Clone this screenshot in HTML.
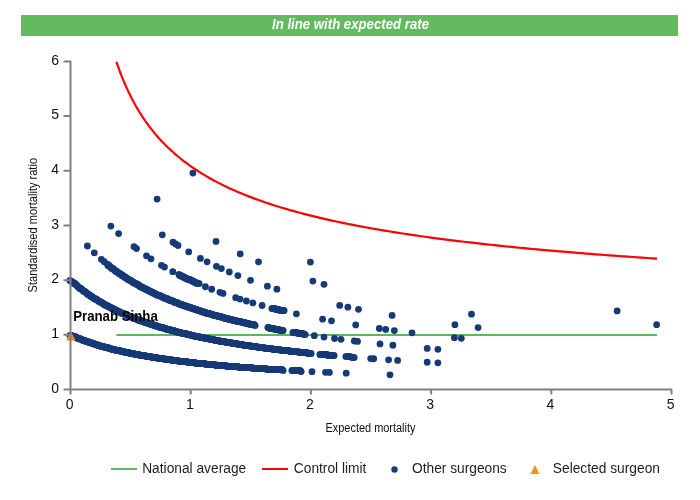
<!DOCTYPE html>
<html><head><meta charset="utf-8"><title>Funnel plot</title>
<style>
html,body{margin:0;padding:0;background:#fff;}
body{width:700px;height:500px;overflow:hidden;position:relative;font-family:"Liberation Sans",Arial,sans-serif;}
svg{position:absolute;left:0;top:0;}
</style></head><body>
<svg style="will-change:transform" width="700" height="500" viewBox="0 0 700 500">
<rect x="21" y="15" width="657" height="21" fill="#63ba5f"/>
<text x="272" y="28.7" textLength="157" lengthAdjust="spacingAndGlyphs" fill="#fff" font-family="Liberation Sans, Arial, sans-serif" font-size="14" font-weight="bold" font-style="italic">In line with expected rate</text>
<path d="M116.41,335.12 H657.00" stroke="#5cb85a" stroke-width="2" fill="none"/>
<path d="M116.41,61.75 L116.45,61.87 L116.54,62.15 L116.69,62.59 L116.88,63.15 L117.11,63.83 L117.39,64.63 L117.70,65.53 L118.05,66.52 L118.44,67.62 L118.87,68.79 L119.33,70.05 L119.82,71.39 L120.35,72.79 L120.92,74.26 L121.51,75.79 L122.14,77.37 L122.80,79.01 L123.49,80.69 L124.22,82.41 L124.98,84.17 L125.76,85.96 L126.58,87.78 L127.43,89.63 L128.30,91.50 L129.21,93.39 L130.15,95.29 L131.11,97.21 L132.11,99.14 L133.13,101.08 L134.18,103.02 L135.26,104.96 L136.37,106.91 L137.51,108.85 L138.68,110.80 L139.87,112.73 L141.09,114.66 L142.34,116.59 L143.61,118.50 L144.91,120.40 L146.24,122.30 L147.60,124.18 L148.98,126.04 L150.39,127.89 L151.83,129.73 L153.29,131.55 L154.78,133.36 L156.29,135.15 L157.83,136.92 L159.40,138.67 L160.99,140.41 L162.61,142.13 L164.25,143.83 L165.92,145.51 L167.61,147.17 L169.33,148.81 L171.08,150.43 L172.85,152.04 L174.64,153.62 L176.46,155.19 L178.31,156.73 L180.18,158.26 L182.07,159.77 L183.99,161.26 L185.93,162.73 L187.90,164.18 L189.89,165.61 L191.91,167.02 L193.95,168.42 L196.01,169.79 L198.10,171.15 L200.21,172.49 L202.35,173.82 L204.51,175.12 L206.70,176.41 L208.90,177.68 L211.14,178.94 L213.39,180.17 L215.67,181.39 L217.97,182.60 L220.30,183.79 L222.65,184.96 L225.02,186.12 L227.42,187.26 L229.83,188.39 L232.28,189.50 L234.74,190.60 L237.23,191.68 L239.74,192.75 L242.28,193.80 L244.83,194.84 L247.41,195.87 L250.02,196.88 L252.64,197.88 L255.29,198.87 L257.96,199.84 L260.65,200.80 L263.37,201.75 L266.11,202.69 L268.87,203.61 L271.65,204.53 L274.46,205.43 L277.29,206.32 L280.14,207.20 L283.01,208.06 L285.90,208.92 L288.82,209.77 L291.76,210.60 L294.72,211.43 L297.70,212.24 L300.71,213.05 L303.73,213.84 L306.78,214.63 L309.85,215.40 L312.94,216.17 L316.06,216.92 L319.19,217.67 L322.35,218.41 L325.53,219.14 L328.73,219.86 L331.95,220.57 L335.20,221.28 L338.46,221.97 L341.75,222.66 L345.06,223.34 L348.39,224.01 L351.74,224.68 L355.11,225.33 L358.51,225.98 L361.92,226.62 L365.36,227.26 L368.82,227.88 L372.29,228.50 L375.79,229.12 L379.32,229.72 L382.86,230.32 L386.42,230.91 L390.01,231.50 L393.61,232.08 L397.24,232.65 L400.88,233.22 L404.55,233.78 L408.24,234.34 L411.95,234.89 L415.68,235.43 L419.43,235.97 L423.20,236.50 L427.00,237.02 L430.81,237.54 L434.64,238.06 L438.50,238.57 L442.38,239.07 L446.27,239.57 L450.19,240.07 L454.12,240.56 L458.08,241.04 L462.06,241.52 L466.06,241.99 L470.08,242.46 L474.12,242.93 L478.18,243.39 L482.26,243.84 L486.36,244.30 L490.48,244.74 L494.62,245.18 L498.78,245.62 L502.96,246.06 L507.16,246.49 L511.39,246.91 L515.63,247.33 L519.89,247.75 L524.17,248.16 L528.47,248.57 L532.80,248.98 L537.14,249.38 L541.50,249.78 L545.88,250.17 L550.29,250.56 L554.71,250.95 L559.15,251.33 L563.61,251.71 L568.09,252.09 L572.60,252.46 L577.12,252.83 L581.66,253.20 L586.22,253.56 L590.80,253.92 L595.40,254.28 L600.02,254.63 L604.66,254.98 L609.32,255.33 L614.00,255.67 L618.70,256.02 L623.42,256.35 L628.16,256.69 L632.92,257.02 L637.69,257.35 L642.49,257.68 L647.31,258.00 L652.14,258.32 L657.00,258.64" stroke="#ff0000" stroke-width="2.2" fill="none"/>
<g fill="none" stroke="#163a77" stroke-width="7.5" stroke-linecap="round" stroke-linejoin="round">

</g>
<g fill="#163a77">
<circle cx="70" cy="335.5" r="3.55"/>
<circle cx="72" cy="335.5" r="3.55"/>
<circle cx="73" cy="336.5" r="3.55"/>
<circle cx="74" cy="336.5" r="3.55"/>
<circle cx="75" cy="336.5" r="3.55"/>
<circle cx="76" cy="337.5" r="3.55"/>
<circle cx="77" cy="337.5" r="3.55"/>
<circle cx="78" cy="338.5" r="3.55"/>
<circle cx="79" cy="338.5" r="3.55"/>
<circle cx="80" cy="338.5" r="3.55"/>
<circle cx="81" cy="339.5" r="3.55"/>
<circle cx="82" cy="339.5" r="3.55"/>
<circle cx="83" cy="340.5" r="3.55"/>
<circle cx="84" cy="340.5" r="3.55"/>
<circle cx="85" cy="340.5" r="3.55"/>
<circle cx="86" cy="341.5" r="3.55"/>
<circle cx="87" cy="341.5" r="3.55"/>
<circle cx="88" cy="341.5" r="3.55"/>
<circle cx="89" cy="342.5" r="3.55"/>
<circle cx="90" cy="342.5" r="3.55"/>
<circle cx="91" cy="342.5" r="3.55"/>
<circle cx="92" cy="343.5" r="3.55"/>
<circle cx="93" cy="343.5" r="3.55"/>
<circle cx="94" cy="343.5" r="3.55"/>
<circle cx="95" cy="344.5" r="3.55"/>
<circle cx="96" cy="344.5" r="3.55"/>
<circle cx="97" cy="344.5" r="3.55"/>
<circle cx="98" cy="345.5" r="3.55"/>
<circle cx="99" cy="345.5" r="3.55"/>
<circle cx="100" cy="345.5" r="3.55"/>
<circle cx="101" cy="346.5" r="3.55"/>
<circle cx="102" cy="346.5" r="3.55"/>
<circle cx="103" cy="346.5" r="3.55"/>
<circle cx="104" cy="346.5" r="3.55"/>
<circle cx="105" cy="347.5" r="3.55"/>
<circle cx="106" cy="347.5" r="3.55"/>
<circle cx="107" cy="347.5" r="3.55"/>
<circle cx="108" cy="347.5" r="3.55"/>
<circle cx="109" cy="348.5" r="3.55"/>
<circle cx="110" cy="348.5" r="3.55"/>
<circle cx="111" cy="348.5" r="3.55"/>
<circle cx="112" cy="349.5" r="3.55"/>
<circle cx="113" cy="349.5" r="3.55"/>
<circle cx="114" cy="349.5" r="3.55"/>
<circle cx="115" cy="349.5" r="3.55"/>
<circle cx="116" cy="350.5" r="3.55"/>
<circle cx="117" cy="350.5" r="3.55"/>
<circle cx="118" cy="350.5" r="3.55"/>
<circle cx="119" cy="350.5" r="3.55"/>
<circle cx="120" cy="350.5" r="3.55"/>
<circle cx="121" cy="351.5" r="3.55"/>
<circle cx="122" cy="351.5" r="3.55"/>
<circle cx="123" cy="351.5" r="3.55"/>
<circle cx="124" cy="351.5" r="3.55"/>
<circle cx="125" cy="352.5" r="3.55"/>
<circle cx="126" cy="352.5" r="3.55"/>
<circle cx="127" cy="352.5" r="3.55"/>
<circle cx="128" cy="352.5" r="3.55"/>
<circle cx="129" cy="352.5" r="3.55"/>
<circle cx="130" cy="353.5" r="3.55"/>
<circle cx="131" cy="353.5" r="3.55"/>
<circle cx="132" cy="353.5" r="3.55"/>
<circle cx="133" cy="353.5" r="3.55"/>
<circle cx="134" cy="353.5" r="3.55"/>
<circle cx="135" cy="354.5" r="3.55"/>
<circle cx="136" cy="354.5" r="3.55"/>
<circle cx="137" cy="354.5" r="3.55"/>
<circle cx="138" cy="354.5" r="3.55"/>
<circle cx="139" cy="354.5" r="3.55"/>
<circle cx="140" cy="355.5" r="3.55"/>
<circle cx="141" cy="355.5" r="3.55"/>
<circle cx="142" cy="355.5" r="3.55"/>
<circle cx="143" cy="355.5" r="3.55"/>
<circle cx="144" cy="355.5" r="3.55"/>
<circle cx="145" cy="355.5" r="3.55"/>
<circle cx="146" cy="356.5" r="3.55"/>
<circle cx="147" cy="356.5" r="3.55"/>
<circle cx="148" cy="356.5" r="3.55"/>
<circle cx="149" cy="356.5" r="3.55"/>
<circle cx="150" cy="356.5" r="3.55"/>
<circle cx="151" cy="356.5" r="3.55"/>
<circle cx="152" cy="357.5" r="3.55"/>
<circle cx="153" cy="357.5" r="3.55"/>
<circle cx="154" cy="357.5" r="3.55"/>
<circle cx="155" cy="357.5" r="3.55"/>
<circle cx="156" cy="357.5" r="3.55"/>
<circle cx="157" cy="357.5" r="3.55"/>
<circle cx="158" cy="358.5" r="3.55"/>
<circle cx="159" cy="358.5" r="3.55"/>
<circle cx="160" cy="358.5" r="3.55"/>
<circle cx="161" cy="358.5" r="3.55"/>
<circle cx="162" cy="358.5" r="3.55"/>
<circle cx="163" cy="358.5" r="3.55"/>
<circle cx="164" cy="358.5" r="3.55"/>
<circle cx="165" cy="359.5" r="3.55"/>
<circle cx="166" cy="359.5" r="3.55"/>
<circle cx="167" cy="359.5" r="3.55"/>
<circle cx="168" cy="359.5" r="3.55"/>
<circle cx="169" cy="359.5" r="3.55"/>
<circle cx="170" cy="359.5" r="3.55"/>
<circle cx="171" cy="359.5" r="3.55"/>
<circle cx="172" cy="360.5" r="3.55"/>
<circle cx="173" cy="360.5" r="3.55"/>
<circle cx="174" cy="360.5" r="3.55"/>
<circle cx="175" cy="360.5" r="3.55"/>
<circle cx="176" cy="360.5" r="3.55"/>
<circle cx="177" cy="360.5" r="3.55"/>
<circle cx="178" cy="360.5" r="3.55"/>
<circle cx="179" cy="361.5" r="3.55"/>
<circle cx="180" cy="361.5" r="3.55"/>
<circle cx="181" cy="361.5" r="3.55"/>
<circle cx="182" cy="361.5" r="3.55"/>
<circle cx="183" cy="361.5" r="3.55"/>
<circle cx="184" cy="361.5" r="3.55"/>
<circle cx="185" cy="361.5" r="3.55"/>
<circle cx="186" cy="361.5" r="3.55"/>
<circle cx="187" cy="361.5" r="3.55"/>
<circle cx="188" cy="362.5" r="3.55"/>
<circle cx="189" cy="362.5" r="3.55"/>
<circle cx="190" cy="362.5" r="3.55"/>
<circle cx="191" cy="362.5" r="3.55"/>
<circle cx="192" cy="362.5" r="3.55"/>
<circle cx="193" cy="362.5" r="3.55"/>
<circle cx="194" cy="362.5" r="3.55"/>
<circle cx="195" cy="362.5" r="3.55"/>
<circle cx="196" cy="363.5" r="3.55"/>
<circle cx="197" cy="363.5" r="3.55"/>
<circle cx="198" cy="363.5" r="3.55"/>
<circle cx="199" cy="363.5" r="3.55"/>
<circle cx="200" cy="363.5" r="3.55"/>
<circle cx="201" cy="363.5" r="3.55"/>
<circle cx="202" cy="363.5" r="3.55"/>
<circle cx="203" cy="363.5" r="3.55"/>
<circle cx="204" cy="363.5" r="3.55"/>
<circle cx="205" cy="363.5" r="3.55"/>
<circle cx="206" cy="364.5" r="3.55"/>
<circle cx="207" cy="364.5" r="3.55"/>
<circle cx="208" cy="364.5" r="3.55"/>
<circle cx="209" cy="364.5" r="3.55"/>
<circle cx="210" cy="364.5" r="3.55"/>
<circle cx="211" cy="364.5" r="3.55"/>
<circle cx="212" cy="364.5" r="3.55"/>
<circle cx="213" cy="364.5" r="3.55"/>
<circle cx="214" cy="364.5" r="3.55"/>
<circle cx="215" cy="364.5" r="3.55"/>
<circle cx="216" cy="365.5" r="3.55"/>
<circle cx="217" cy="365.5" r="3.55"/>
<circle cx="218" cy="365.5" r="3.55"/>
<circle cx="219" cy="365.5" r="3.55"/>
<circle cx="220" cy="365.5" r="3.55"/>
<circle cx="221" cy="365.5" r="3.55"/>
<circle cx="222" cy="365.5" r="3.55"/>
<circle cx="223" cy="365.5" r="3.55"/>
<circle cx="224" cy="365.5" r="3.55"/>
<circle cx="225" cy="365.5" r="3.55"/>
<circle cx="226" cy="365.5" r="3.55"/>
<circle cx="227" cy="366.5" r="3.55"/>
<circle cx="228" cy="366.5" r="3.55"/>
<circle cx="229" cy="366.5" r="3.55"/>
<circle cx="230" cy="366.5" r="3.55"/>
<circle cx="231" cy="366.5" r="3.55"/>
<circle cx="232" cy="366.5" r="3.55"/>
<circle cx="233" cy="366.5" r="3.55"/>
<circle cx="234" cy="366.5" r="3.55"/>
<circle cx="235" cy="366.5" r="3.55"/>
<circle cx="236" cy="366.5" r="3.55"/>
<circle cx="237" cy="366.5" r="3.55"/>
<circle cx="238" cy="366.5" r="3.55"/>
<circle cx="239" cy="367.5" r="3.55"/>
<circle cx="240" cy="367.5" r="3.55"/>
<circle cx="241" cy="367.5" r="3.55"/>
<circle cx="242" cy="367.5" r="3.55"/>
<circle cx="243" cy="367.5" r="3.55"/>
<circle cx="244" cy="367.5" r="3.55"/>
<circle cx="245" cy="367.5" r="3.55"/>
<circle cx="246" cy="367.5" r="3.55"/>
<circle cx="247" cy="367.5" r="3.55"/>
<circle cx="248" cy="367.5" r="3.55"/>
<circle cx="249" cy="367.5" r="3.55"/>
<circle cx="250" cy="367.5" r="3.55"/>
<circle cx="251" cy="367.5" r="3.55"/>
<circle cx="252" cy="367.5" r="3.55"/>
<circle cx="253" cy="368.5" r="3.55"/>
<circle cx="254" cy="368.5" r="3.55"/>
<circle cx="255" cy="368.5" r="3.55"/>
<circle cx="256" cy="368.5" r="3.55"/>
<circle cx="257" cy="368.5" r="3.55"/>
<circle cx="258" cy="368.5" r="3.55"/>
<circle cx="259" cy="368.5" r="3.55"/>
<circle cx="260" cy="368.5" r="3.55"/>
<circle cx="261" cy="368.5" r="3.55"/>
<circle cx="262" cy="368.5" r="3.55"/>
<circle cx="263" cy="368.5" r="3.55"/>
<circle cx="264" cy="368.5" r="3.55"/>
<circle cx="265" cy="368.5" r="3.55"/>
<circle cx="266" cy="368.5" r="3.55"/>
<circle cx="267" cy="369.5" r="3.55"/>
<circle cx="268" cy="369.5" r="3.55"/>
<circle cx="269" cy="369.5" r="3.55"/>
<circle cx="270" cy="369.5" r="3.55"/>
<circle cx="271" cy="369.5" r="3.55"/>
<circle cx="272" cy="369.5" r="3.55"/>
<circle cx="273" cy="369.5" r="3.55"/>
<circle cx="274" cy="369.5" r="3.55"/>
<circle cx="275" cy="369.5" r="3.55"/>
<circle cx="276" cy="369.5" r="3.55"/>
<circle cx="277" cy="369.5" r="3.55"/>
<circle cx="278" cy="369.5" r="3.55"/>
<circle cx="279" cy="369.5" r="3.55"/>
<circle cx="280" cy="369.5" r="3.55"/>
<circle cx="281" cy="369.5" r="3.55"/>
<circle cx="282" cy="369.5" r="3.55"/>
<circle cx="283" cy="370.5" r="3.55"/>
<circle cx="292" cy="370.5" r="3.55"/>
<circle cx="293" cy="370.5" r="3.55"/>
<circle cx="294" cy="370.5" r="3.55"/>
<circle cx="295" cy="370.5" r="3.55"/>
<circle cx="296" cy="370.5" r="3.55"/>
<circle cx="298" cy="370.5" r="3.55"/>
<circle cx="299" cy="370.5" r="3.55"/>
<circle cx="300" cy="370.5" r="3.55"/>
<circle cx="301" cy="371.5" r="3.55"/>
<circle cx="312.00" cy="371.63" r="3.4"/>
<circle cx="325.50" cy="372.28" r="3.4"/>
<circle cx="329.40" cy="372.46" r="3.4"/>
<circle cx="346.20" cy="373.20" r="3.4"/>
<circle cx="390.00" cy="374.85" r="3.4"/>
<circle cx="70" cy="280.5" r="3.55"/>
<circle cx="72" cy="281.5" r="3.55"/>
<circle cx="73" cy="282.5" r="3.55"/>
<circle cx="74" cy="283.5" r="3.55"/>
<circle cx="75" cy="283.5" r="3.55"/>
<circle cx="76" cy="284.5" r="3.55"/>
<circle cx="77" cy="285.5" r="3.55"/>
<circle cx="78" cy="286.5" r="3.55"/>
<circle cx="79" cy="287.5" r="3.55"/>
<circle cx="80" cy="288.5" r="3.55"/>
<circle cx="81" cy="288.5" r="3.55"/>
<circle cx="82" cy="289.5" r="3.55"/>
<circle cx="83" cy="290.5" r="3.55"/>
<circle cx="84" cy="291.5" r="3.55"/>
<circle cx="85" cy="291.5" r="3.55"/>
<circle cx="86" cy="292.5" r="3.55"/>
<circle cx="87" cy="293.5" r="3.55"/>
<circle cx="88" cy="294.5" r="3.55"/>
<circle cx="89" cy="294.5" r="3.55"/>
<circle cx="90" cy="295.5" r="3.55"/>
<circle cx="91" cy="296.5" r="3.55"/>
<circle cx="92" cy="296.5" r="3.55"/>
<circle cx="93" cy="297.5" r="3.55"/>
<circle cx="94" cy="298.5" r="3.55"/>
<circle cx="95" cy="298.5" r="3.55"/>
<circle cx="96" cy="299.5" r="3.55"/>
<circle cx="97" cy="299.5" r="3.55"/>
<circle cx="98" cy="300.5" r="3.55"/>
<circle cx="99" cy="301.5" r="3.55"/>
<circle cx="100" cy="301.5" r="3.55"/>
<circle cx="101" cy="302.5" r="3.55"/>
<circle cx="102" cy="302.5" r="3.55"/>
<circle cx="103" cy="303.5" r="3.55"/>
<circle cx="104" cy="304.5" r="3.55"/>
<circle cx="105" cy="304.5" r="3.55"/>
<circle cx="106" cy="305.5" r="3.55"/>
<circle cx="107" cy="305.5" r="3.55"/>
<circle cx="108" cy="306.5" r="3.55"/>
<circle cx="109" cy="306.5" r="3.55"/>
<circle cx="110" cy="307.5" r="3.55"/>
<circle cx="111" cy="307.5" r="3.55"/>
<circle cx="112" cy="308.5" r="3.55"/>
<circle cx="113" cy="308.5" r="3.55"/>
<circle cx="114" cy="309.5" r="3.55"/>
<circle cx="115" cy="309.5" r="3.55"/>
<circle cx="116" cy="310.5" r="3.55"/>
<circle cx="117" cy="310.5" r="3.55"/>
<circle cx="118" cy="311.5" r="3.55"/>
<circle cx="119" cy="311.5" r="3.55"/>
<circle cx="120" cy="312.5" r="3.55"/>
<circle cx="121" cy="312.5" r="3.55"/>
<circle cx="122" cy="313.5" r="3.55"/>
<circle cx="123" cy="313.5" r="3.55"/>
<circle cx="124" cy="313.5" r="3.55"/>
<circle cx="125" cy="314.5" r="3.55"/>
<circle cx="126" cy="314.5" r="3.55"/>
<circle cx="127" cy="315.5" r="3.55"/>
<circle cx="128" cy="315.5" r="3.55"/>
<circle cx="129" cy="316.5" r="3.55"/>
<circle cx="130" cy="316.5" r="3.55"/>
<circle cx="131" cy="316.5" r="3.55"/>
<circle cx="132" cy="317.5" r="3.55"/>
<circle cx="133" cy="317.5" r="3.55"/>
<circle cx="134" cy="318.5" r="3.55"/>
<circle cx="135" cy="318.5" r="3.55"/>
<circle cx="136" cy="318.5" r="3.55"/>
<circle cx="137" cy="319.5" r="3.55"/>
<circle cx="138" cy="319.5" r="3.55"/>
<circle cx="139" cy="320.5" r="3.55"/>
<circle cx="140" cy="320.5" r="3.55"/>
<circle cx="141" cy="320.5" r="3.55"/>
<circle cx="142" cy="321.5" r="3.55"/>
<circle cx="143" cy="321.5" r="3.55"/>
<circle cx="144" cy="321.5" r="3.55"/>
<circle cx="145" cy="322.5" r="3.55"/>
<circle cx="146" cy="322.5" r="3.55"/>
<circle cx="147" cy="322.5" r="3.55"/>
<circle cx="148" cy="323.5" r="3.55"/>
<circle cx="149" cy="323.5" r="3.55"/>
<circle cx="150" cy="323.5" r="3.55"/>
<circle cx="151" cy="324.5" r="3.55"/>
<circle cx="152" cy="324.5" r="3.55"/>
<circle cx="153" cy="324.5" r="3.55"/>
<circle cx="154" cy="325.5" r="3.55"/>
<circle cx="155" cy="325.5" r="3.55"/>
<circle cx="156" cy="325.5" r="3.55"/>
<circle cx="157" cy="326.5" r="3.55"/>
<circle cx="158" cy="326.5" r="3.55"/>
<circle cx="159" cy="326.5" r="3.55"/>
<circle cx="160" cy="327.5" r="3.55"/>
<circle cx="161" cy="327.5" r="3.55"/>
<circle cx="162" cy="327.5" r="3.55"/>
<circle cx="163" cy="327.5" r="3.55"/>
<circle cx="164" cy="328.5" r="3.55"/>
<circle cx="165" cy="328.5" r="3.55"/>
<circle cx="166" cy="328.5" r="3.55"/>
<circle cx="167" cy="329.5" r="3.55"/>
<circle cx="168" cy="329.5" r="3.55"/>
<circle cx="169" cy="329.5" r="3.55"/>
<circle cx="170" cy="329.5" r="3.55"/>
<circle cx="171" cy="330.5" r="3.55"/>
<circle cx="172" cy="330.5" r="3.55"/>
<circle cx="173" cy="330.5" r="3.55"/>
<circle cx="174" cy="330.5" r="3.55"/>
<circle cx="175" cy="331.5" r="3.55"/>
<circle cx="176" cy="331.5" r="3.55"/>
<circle cx="177" cy="331.5" r="3.55"/>
<circle cx="178" cy="332.5" r="3.55"/>
<circle cx="179" cy="332.5" r="3.55"/>
<circle cx="180" cy="332.5" r="3.55"/>
<circle cx="181" cy="332.5" r="3.55"/>
<circle cx="182" cy="333.5" r="3.55"/>
<circle cx="183" cy="333.5" r="3.55"/>
<circle cx="184" cy="333.5" r="3.55"/>
<circle cx="185" cy="333.5" r="3.55"/>
<circle cx="186" cy="333.5" r="3.55"/>
<circle cx="187" cy="334.5" r="3.55"/>
<circle cx="188" cy="334.5" r="3.55"/>
<circle cx="189" cy="334.5" r="3.55"/>
<circle cx="190" cy="334.5" r="3.55"/>
<circle cx="191" cy="335.5" r="3.55"/>
<circle cx="192" cy="335.5" r="3.55"/>
<circle cx="193" cy="335.5" r="3.55"/>
<circle cx="194" cy="335.5" r="3.55"/>
<circle cx="195" cy="336.5" r="3.55"/>
<circle cx="196" cy="336.5" r="3.55"/>
<circle cx="197" cy="336.5" r="3.55"/>
<circle cx="198" cy="336.5" r="3.55"/>
<circle cx="199" cy="336.5" r="3.55"/>
<circle cx="200" cy="337.5" r="3.55"/>
<circle cx="201" cy="337.5" r="3.55"/>
<circle cx="202" cy="337.5" r="3.55"/>
<circle cx="203" cy="337.5" r="3.55"/>
<circle cx="204" cy="337.5" r="3.55"/>
<circle cx="205" cy="338.5" r="3.55"/>
<circle cx="206" cy="338.5" r="3.55"/>
<circle cx="207" cy="338.5" r="3.55"/>
<circle cx="208" cy="338.5" r="3.55"/>
<circle cx="209" cy="338.5" r="3.55"/>
<circle cx="210" cy="339.5" r="3.55"/>
<circle cx="211" cy="339.5" r="3.55"/>
<circle cx="212" cy="339.5" r="3.55"/>
<circle cx="213" cy="339.5" r="3.55"/>
<circle cx="214" cy="339.5" r="3.55"/>
<circle cx="215" cy="340.5" r="3.55"/>
<circle cx="216" cy="340.5" r="3.55"/>
<circle cx="217" cy="340.5" r="3.55"/>
<circle cx="218" cy="340.5" r="3.55"/>
<circle cx="219" cy="340.5" r="3.55"/>
<circle cx="220" cy="341.5" r="3.55"/>
<circle cx="221" cy="341.5" r="3.55"/>
<circle cx="222" cy="341.5" r="3.55"/>
<circle cx="223" cy="341.5" r="3.55"/>
<circle cx="224" cy="341.5" r="3.55"/>
<circle cx="225" cy="341.5" r="3.55"/>
<circle cx="226" cy="342.5" r="3.55"/>
<circle cx="227" cy="342.5" r="3.55"/>
<circle cx="228" cy="342.5" r="3.55"/>
<circle cx="229" cy="342.5" r="3.55"/>
<circle cx="230" cy="342.5" r="3.55"/>
<circle cx="231" cy="342.5" r="3.55"/>
<circle cx="232" cy="343.5" r="3.55"/>
<circle cx="233" cy="343.5" r="3.55"/>
<circle cx="234" cy="343.5" r="3.55"/>
<circle cx="235" cy="343.5" r="3.55"/>
<circle cx="236" cy="343.5" r="3.55"/>
<circle cx="237" cy="343.5" r="3.55"/>
<circle cx="238" cy="344.5" r="3.55"/>
<circle cx="239" cy="344.5" r="3.55"/>
<circle cx="240" cy="344.5" r="3.55"/>
<circle cx="241" cy="344.5" r="3.55"/>
<circle cx="242" cy="344.5" r="3.55"/>
<circle cx="243" cy="344.5" r="3.55"/>
<circle cx="244" cy="345.5" r="3.55"/>
<circle cx="245" cy="345.5" r="3.55"/>
<circle cx="246" cy="345.5" r="3.55"/>
<circle cx="247" cy="345.5" r="3.55"/>
<circle cx="248" cy="345.5" r="3.55"/>
<circle cx="249" cy="345.5" r="3.55"/>
<circle cx="250" cy="345.5" r="3.55"/>
<circle cx="251" cy="346.5" r="3.55"/>
<circle cx="252" cy="346.5" r="3.55"/>
<circle cx="253" cy="346.5" r="3.55"/>
<circle cx="254" cy="346.5" r="3.55"/>
<circle cx="255" cy="346.5" r="3.55"/>
<circle cx="256" cy="346.5" r="3.55"/>
<circle cx="257" cy="346.5" r="3.55"/>
<circle cx="258" cy="347.5" r="3.55"/>
<circle cx="259" cy="347.5" r="3.55"/>
<circle cx="260" cy="347.5" r="3.55"/>
<circle cx="261" cy="347.5" r="3.55"/>
<circle cx="262" cy="347.5" r="3.55"/>
<circle cx="263" cy="347.5" r="3.55"/>
<circle cx="264" cy="347.5" r="3.55"/>
<circle cx="265" cy="348.5" r="3.55"/>
<circle cx="266" cy="348.5" r="3.55"/>
<circle cx="267" cy="348.5" r="3.55"/>
<circle cx="268" cy="348.5" r="3.55"/>
<circle cx="269" cy="348.5" r="3.55"/>
<circle cx="270" cy="348.5" r="3.55"/>
<circle cx="271" cy="348.5" r="3.55"/>
<circle cx="272" cy="348.5" r="3.55"/>
<circle cx="273" cy="349.5" r="3.55"/>
<circle cx="274" cy="349.5" r="3.55"/>
<circle cx="275" cy="349.5" r="3.55"/>
<circle cx="276" cy="349.5" r="3.55"/>
<circle cx="277" cy="349.5" r="3.55"/>
<circle cx="278" cy="349.5" r="3.55"/>
<circle cx="279" cy="349.5" r="3.55"/>
<circle cx="280" cy="349.5" r="3.55"/>
<circle cx="281" cy="350.5" r="3.55"/>
<circle cx="282" cy="350.5" r="3.55"/>
<circle cx="283" cy="350.5" r="3.55"/>
<circle cx="284" cy="350.5" r="3.55"/>
<circle cx="285" cy="350.5" r="3.55"/>
<circle cx="286" cy="350.5" r="3.55"/>
<circle cx="287" cy="350.5" r="3.55"/>
<circle cx="288" cy="350.5" r="3.55"/>
<circle cx="289" cy="350.5" r="3.55"/>
<circle cx="290" cy="351.5" r="3.55"/>
<circle cx="291" cy="351.5" r="3.55"/>
<circle cx="292" cy="351.5" r="3.55"/>
<circle cx="293" cy="351.5" r="3.55"/>
<circle cx="294" cy="351.5" r="3.55"/>
<circle cx="295" cy="351.5" r="3.55"/>
<circle cx="296" cy="351.5" r="3.55"/>
<circle cx="297" cy="351.5" r="3.55"/>
<circle cx="298" cy="351.5" r="3.55"/>
<circle cx="299" cy="352.5" r="3.55"/>
<circle cx="300" cy="352.5" r="3.55"/>
<circle cx="301" cy="352.5" r="3.55"/>
<circle cx="302" cy="352.5" r="3.55"/>
<circle cx="303" cy="352.5" r="3.55"/>
<circle cx="304" cy="352.5" r="3.55"/>
<circle cx="305" cy="352.5" r="3.55"/>
<circle cx="306" cy="352.5" r="3.55"/>
<circle cx="307" cy="352.5" r="3.55"/>
<circle cx="308" cy="353.5" r="3.55"/>
<circle cx="309" cy="353.5" r="3.55"/>
<circle cx="310" cy="353.5" r="3.55"/>
<circle cx="311" cy="353.5" r="3.55"/>
<circle cx="320" cy="354.5" r="3.55"/>
<circle cx="321" cy="354.5" r="3.55"/>
<circle cx="322" cy="354.5" r="3.55"/>
<circle cx="323" cy="354.5" r="3.55"/>
<circle cx="324" cy="354.5" r="3.55"/>
<circle cx="325" cy="354.5" r="3.55"/>
<circle cx="326" cy="354.5" r="3.55"/>
<circle cx="327" cy="354.5" r="3.55"/>
<circle cx="328" cy="355.5" r="3.55"/>
<circle cx="329" cy="355.5" r="3.55"/>
<circle cx="330" cy="355.5" r="3.55"/>
<circle cx="331" cy="355.5" r="3.55"/>
<circle cx="332" cy="355.5" r="3.55"/>
<circle cx="333" cy="355.5" r="3.55"/>
<circle cx="334" cy="355.5" r="3.55"/>
<circle cx="346" cy="356.5" r="3.55"/>
<circle cx="348" cy="356.5" r="3.55"/>
<circle cx="350" cy="356.5" r="3.55"/>
<circle cx="352" cy="357.5" r="3.55"/>
<circle cx="354" cy="357.5" r="3.55"/>
<circle cx="370.70" cy="358.53" r="3.4"/>
<circle cx="373.70" cy="358.76" r="3.4"/>
<circle cx="388.60" cy="359.81" r="3.4"/>
<circle cx="397.60" cy="360.42" r="3.4"/>
<circle cx="427.20" cy="362.24" r="3.4"/>
<circle cx="437.90" cy="362.84" r="3.4"/>
<circle cx="87.40" cy="245.99" r="3.4"/>
<circle cx="94.30" cy="252.88" r="3.4"/>
<circle cx="101.40" cy="259.32" r="3.4"/>
<circle cx="104.20" cy="261.69" r="3.4"/>
<circle cx="108" cy="264.5" r="3.55"/>
<circle cx="108" cy="265.5" r="3.55"/>
<circle cx="109" cy="265.5" r="3.55"/>
<circle cx="110" cy="266.5" r="3.55"/>
<circle cx="111" cy="267.5" r="3.55"/>
<circle cx="112" cy="268.5" r="3.55"/>
<circle cx="113" cy="268.5" r="3.55"/>
<circle cx="114" cy="269.5" r="3.55"/>
<circle cx="115" cy="270.5" r="3.55"/>
<circle cx="116" cy="271.5" r="3.55"/>
<circle cx="117" cy="271.5" r="3.55"/>
<circle cx="118" cy="272.5" r="3.55"/>
<circle cx="119" cy="273.5" r="3.55"/>
<circle cx="120" cy="273.5" r="3.55"/>
<circle cx="121" cy="274.5" r="3.55"/>
<circle cx="122" cy="275.5" r="3.55"/>
<circle cx="123" cy="275.5" r="3.55"/>
<circle cx="124" cy="276.5" r="3.55"/>
<circle cx="125" cy="277.5" r="3.55"/>
<circle cx="126" cy="277.5" r="3.55"/>
<circle cx="127" cy="278.5" r="3.55"/>
<circle cx="128" cy="279.5" r="3.55"/>
<circle cx="129" cy="279.5" r="3.55"/>
<circle cx="130" cy="280.5" r="3.55"/>
<circle cx="131" cy="280.5" r="3.55"/>
<circle cx="132" cy="281.5" r="3.55"/>
<circle cx="133" cy="282.5" r="3.55"/>
<circle cx="134" cy="282.5" r="3.55"/>
<circle cx="135" cy="283.5" r="3.55"/>
<circle cx="136" cy="283.5" r="3.55"/>
<circle cx="137" cy="284.5" r="3.55"/>
<circle cx="138" cy="284.5" r="3.55"/>
<circle cx="139" cy="285.5" r="3.55"/>
<circle cx="140" cy="286.5" r="3.55"/>
<circle cx="141" cy="286.5" r="3.55"/>
<circle cx="142" cy="287.5" r="3.55"/>
<circle cx="143" cy="287.5" r="3.55"/>
<circle cx="144" cy="288.5" r="3.55"/>
<circle cx="145" cy="288.5" r="3.55"/>
<circle cx="146" cy="289.5" r="3.55"/>
<circle cx="147" cy="289.5" r="3.55"/>
<circle cx="148" cy="290.5" r="3.55"/>
<circle cx="149" cy="290.5" r="3.55"/>
<circle cx="150" cy="291.5" r="3.55"/>
<circle cx="151" cy="291.5" r="3.55"/>
<circle cx="152" cy="292.5" r="3.55"/>
<circle cx="153" cy="292.5" r="3.55"/>
<circle cx="154" cy="293.5" r="3.55"/>
<circle cx="155" cy="293.5" r="3.55"/>
<circle cx="156" cy="294.5" r="3.55"/>
<circle cx="157" cy="294.5" r="3.55"/>
<circle cx="158" cy="295.5" r="3.55"/>
<circle cx="159" cy="295.5" r="3.55"/>
<circle cx="160" cy="295.5" r="3.55"/>
<circle cx="161" cy="296.5" r="3.55"/>
<circle cx="162" cy="296.5" r="3.55"/>
<circle cx="163" cy="297.5" r="3.55"/>
<circle cx="164" cy="297.5" r="3.55"/>
<circle cx="165" cy="298.5" r="3.55"/>
<circle cx="166" cy="298.5" r="3.55"/>
<circle cx="167" cy="298.5" r="3.55"/>
<circle cx="168" cy="299.5" r="3.55"/>
<circle cx="169" cy="299.5" r="3.55"/>
<circle cx="170" cy="300.5" r="3.55"/>
<circle cx="171" cy="300.5" r="3.55"/>
<circle cx="172" cy="300.5" r="3.55"/>
<circle cx="173" cy="301.5" r="3.55"/>
<circle cx="174" cy="301.5" r="3.55"/>
<circle cx="175" cy="302.5" r="3.55"/>
<circle cx="176" cy="302.5" r="3.55"/>
<circle cx="177" cy="302.5" r="3.55"/>
<circle cx="178" cy="303.5" r="3.55"/>
<circle cx="179" cy="303.5" r="3.55"/>
<circle cx="180" cy="304.5" r="3.55"/>
<circle cx="181" cy="304.5" r="3.55"/>
<circle cx="182" cy="304.5" r="3.55"/>
<circle cx="183" cy="305.5" r="3.55"/>
<circle cx="184" cy="305.5" r="3.55"/>
<circle cx="185" cy="305.5" r="3.55"/>
<circle cx="186" cy="306.5" r="3.55"/>
<circle cx="187" cy="306.5" r="3.55"/>
<circle cx="188" cy="306.5" r="3.55"/>
<circle cx="189" cy="307.5" r="3.55"/>
<circle cx="190" cy="307.5" r="3.55"/>
<circle cx="191" cy="307.5" r="3.55"/>
<circle cx="192" cy="308.5" r="3.55"/>
<circle cx="193" cy="308.5" r="3.55"/>
<circle cx="194" cy="308.5" r="3.55"/>
<circle cx="195" cy="309.5" r="3.55"/>
<circle cx="196" cy="309.5" r="3.55"/>
<circle cx="197" cy="309.5" r="3.55"/>
<circle cx="198" cy="310.5" r="3.55"/>
<circle cx="199" cy="310.5" r="3.55"/>
<circle cx="200" cy="310.5" r="3.55"/>
<circle cx="201" cy="311.5" r="3.55"/>
<circle cx="202" cy="311.5" r="3.55"/>
<circle cx="203" cy="311.5" r="3.55"/>
<circle cx="204" cy="312.5" r="3.55"/>
<circle cx="205" cy="312.5" r="3.55"/>
<circle cx="206" cy="312.5" r="3.55"/>
<circle cx="207" cy="313.5" r="3.55"/>
<circle cx="208" cy="313.5" r="3.55"/>
<circle cx="209" cy="313.5" r="3.55"/>
<circle cx="210" cy="313.5" r="3.55"/>
<circle cx="211" cy="314.5" r="3.55"/>
<circle cx="212" cy="314.5" r="3.55"/>
<circle cx="213" cy="314.5" r="3.55"/>
<circle cx="214" cy="315.5" r="3.55"/>
<circle cx="215" cy="315.5" r="3.55"/>
<circle cx="216" cy="315.5" r="3.55"/>
<circle cx="217" cy="315.5" r="3.55"/>
<circle cx="218" cy="316.5" r="3.55"/>
<circle cx="219" cy="316.5" r="3.55"/>
<circle cx="220" cy="316.5" r="3.55"/>
<circle cx="221" cy="316.5" r="3.55"/>
<circle cx="222" cy="317.5" r="3.55"/>
<circle cx="223" cy="317.5" r="3.55"/>
<circle cx="224" cy="317.5" r="3.55"/>
<circle cx="225" cy="318.5" r="3.55"/>
<circle cx="226" cy="318.5" r="3.55"/>
<circle cx="227" cy="318.5" r="3.55"/>
<circle cx="228" cy="318.5" r="3.55"/>
<circle cx="229" cy="319.5" r="3.55"/>
<circle cx="230" cy="319.5" r="3.55"/>
<circle cx="231" cy="319.5" r="3.55"/>
<circle cx="232" cy="319.5" r="3.55"/>
<circle cx="233" cy="320.5" r="3.55"/>
<circle cx="234" cy="320.5" r="3.55"/>
<circle cx="235" cy="320.5" r="3.55"/>
<circle cx="236" cy="320.5" r="3.55"/>
<circle cx="237" cy="321.5" r="3.55"/>
<circle cx="238" cy="321.5" r="3.55"/>
<circle cx="239" cy="321.5" r="3.55"/>
<circle cx="240" cy="321.5" r="3.55"/>
<circle cx="241" cy="321.5" r="3.55"/>
<circle cx="242" cy="322.5" r="3.55"/>
<circle cx="243" cy="322.5" r="3.55"/>
<circle cx="244" cy="322.5" r="3.55"/>
<circle cx="245" cy="322.5" r="3.55"/>
<circle cx="246" cy="323.5" r="3.55"/>
<circle cx="247" cy="323.5" r="3.55"/>
<circle cx="248" cy="323.5" r="3.55"/>
<circle cx="249" cy="323.5" r="3.55"/>
<circle cx="250" cy="324.5" r="3.55"/>
<circle cx="251" cy="324.5" r="3.55"/>
<circle cx="252" cy="324.5" r="3.55"/>
<circle cx="253" cy="324.5" r="3.55"/>
<circle cx="254" cy="324.5" r="3.55"/>
<circle cx="255" cy="325.5" r="3.55"/>
<circle cx="268" cy="327.5" r="3.55"/>
<circle cx="269" cy="327.5" r="3.55"/>
<circle cx="270" cy="328.5" r="3.55"/>
<circle cx="271" cy="328.5" r="3.55"/>
<circle cx="272" cy="328.5" r="3.55"/>
<circle cx="273" cy="328.5" r="3.55"/>
<circle cx="274" cy="328.5" r="3.55"/>
<circle cx="275" cy="329.5" r="3.55"/>
<circle cx="276" cy="329.5" r="3.55"/>
<circle cx="277" cy="329.5" r="3.55"/>
<circle cx="278" cy="329.5" r="3.55"/>
<circle cx="279" cy="329.5" r="3.55"/>
<circle cx="280" cy="330.5" r="3.55"/>
<circle cx="281" cy="330.5" r="3.55"/>
<circle cx="282" cy="330.5" r="3.55"/>
<circle cx="283" cy="330.5" r="3.55"/>
<circle cx="293" cy="332.5" r="3.55"/>
<circle cx="294" cy="332.5" r="3.55"/>
<circle cx="295" cy="332.5" r="3.55"/>
<circle cx="296" cy="332.5" r="3.55"/>
<circle cx="297" cy="332.5" r="3.55"/>
<circle cx="298" cy="333.5" r="3.55"/>
<circle cx="299" cy="333.5" r="3.55"/>
<circle cx="300" cy="333.5" r="3.55"/>
<circle cx="301" cy="333.5" r="3.55"/>
<circle cx="302" cy="333.5" r="3.55"/>
<circle cx="303" cy="333.5" r="3.55"/>
<circle cx="304" cy="334.5" r="3.55"/>
<circle cx="305" cy="334.5" r="3.55"/>
<circle cx="314.30" cy="335.64" r="3.4"/>
<circle cx="324.00" cy="337.04" r="3.4"/>
<circle cx="334.50" cy="338.48" r="3.4"/>
<circle cx="341.00" cy="339.34" r="3.4"/>
<circle cx="354.30" cy="341.00" r="3.4"/>
<circle cx="357.50" cy="341.38" r="3.4"/>
<circle cx="380.00" cy="343.92" r="3.4"/>
<circle cx="392.90" cy="345.25" r="3.4"/>
<circle cx="427.20" cy="348.46" r="3.4"/>
<circle cx="437.90" cy="349.37" r="3.4"/>
<circle cx="110.90" cy="226.12" r="3.4"/>
<circle cx="118.60" cy="233.60" r="3.4"/>
<circle cx="134.00" cy="246.70" r="3.4"/>
<circle cx="136.50" cy="248.62" r="3.4"/>
<circle cx="146.50" cy="255.82" r="3.4"/>
<circle cx="151.00" cy="258.82" r="3.4"/>
<circle cx="161.50" cy="265.33" r="3.4"/>
<circle cx="164.50" cy="267.07" r="3.4"/>
<circle cx="172.80" cy="271.65" r="3.4"/>
<circle cx="179" cy="274.5" r="3.55"/>
<circle cx="180" cy="275.5" r="3.55"/>
<circle cx="181" cy="275.5" r="3.55"/>
<circle cx="182" cy="276.5" r="3.55"/>
<circle cx="183" cy="276.5" r="3.55"/>
<circle cx="184" cy="277.5" r="3.55"/>
<circle cx="185" cy="277.5" r="3.55"/>
<circle cx="186" cy="278.5" r="3.55"/>
<circle cx="187" cy="278.5" r="3.55"/>
<circle cx="188" cy="279.5" r="3.55"/>
<circle cx="189" cy="279.5" r="3.55"/>
<circle cx="190" cy="279.5" r="3.55"/>
<circle cx="191" cy="280.5" r="3.55"/>
<circle cx="192" cy="280.5" r="3.55"/>
<circle cx="193" cy="281.5" r="3.55"/>
<circle cx="194" cy="281.5" r="3.55"/>
<circle cx="195" cy="282.5" r="3.55"/>
<circle cx="196" cy="282.5" r="3.55"/>
<circle cx="197" cy="283.5" r="3.55"/>
<circle cx="198" cy="283.5" r="3.55"/>
<circle cx="199" cy="283.5" r="3.55"/>
<circle cx="205.40" cy="286.75" r="3.4"/>
<circle cx="211.70" cy="289.23" r="3.4"/>
<circle cx="219.90" cy="292.29" r="3.4"/>
<circle cx="223.00" cy="293.40" r="3.4"/>
<circle cx="235.70" cy="297.69" r="3.4"/>
<circle cx="240.00" cy="299.06" r="3.4"/>
<circle cx="246.40" cy="301.02" r="3.4"/>
<circle cx="252.90" cy="302.93" r="3.4"/>
<circle cx="262.10" cy="305.49" r="3.4"/>
<circle cx="272" cy="308.5" r="3.55"/>
<circle cx="273" cy="308.5" r="3.55"/>
<circle cx="274" cy="308.5" r="3.55"/>
<circle cx="275" cy="308.5" r="3.55"/>
<circle cx="276" cy="309.5" r="3.55"/>
<circle cx="277" cy="309.5" r="3.55"/>
<circle cx="278" cy="309.5" r="3.55"/>
<circle cx="279" cy="309.5" r="3.55"/>
<circle cx="280" cy="310.5" r="3.55"/>
<circle cx="281" cy="310.5" r="3.55"/>
<circle cx="282" cy="310.5" r="3.55"/>
<circle cx="283" cy="310.5" r="3.55"/>
<circle cx="284" cy="310.5" r="3.55"/>
<circle cx="296.40" cy="313.85" r="3.4"/>
<circle cx="322.60" cy="319.19" r="3.4"/>
<circle cx="331.50" cy="320.84" r="3.4"/>
<circle cx="355.70" cy="324.96" r="3.4"/>
<circle cx="379.30" cy="328.52" r="3.4"/>
<circle cx="385.70" cy="329.42" r="3.4"/>
<circle cx="394.30" cy="330.59" r="3.4"/>
<circle cx="412.00" cy="332.86" r="3.4"/>
<circle cx="454.40" cy="337.65" r="3.4"/>
<circle cx="461.30" cy="338.36" r="3.4"/>
<circle cx="162.30" cy="234.80" r="3.4"/>
<circle cx="173.00" cy="242.25" r="3.4"/>
<circle cx="175.50" cy="243.89" r="3.4"/>
<circle cx="178.00" cy="245.49" r="3.4"/>
<circle cx="188.70" cy="251.97" r="3.4"/>
<circle cx="200.40" cy="258.41" r="3.4"/>
<circle cx="207.10" cy="261.84" r="3.4"/>
<circle cx="216.40" cy="266.31" r="3.4"/>
<circle cx="221.40" cy="268.59" r="3.4"/>
<circle cx="229.30" cy="272.02" r="3.4"/>
<circle cx="237.90" cy="275.55" r="3.4"/>
<circle cx="250.50" cy="280.34" r="3.4"/>
<circle cx="267.40" cy="286.17" r="3.4"/>
<circle cx="276.90" cy="289.19" r="3.4"/>
<circle cx="339.70" cy="305.41" r="3.4"/>
<circle cx="347.90" cy="307.15" r="3.4"/>
<circle cx="358.50" cy="309.30" r="3.4"/>
<circle cx="392.10" cy="315.42" r="3.4"/>
<circle cx="454.90" cy="324.68" r="3.4"/>
<circle cx="478.10" cy="327.54" r="3.4"/>
<circle cx="157.10" cy="199.12" r="3.4"/>
<circle cx="216.00" cy="241.39" r="3.4"/>
<circle cx="240.20" cy="253.78" r="3.4"/>
<circle cx="258.50" cy="261.86" r="3.4"/>
<circle cx="312.90" cy="281.05" r="3.4"/>
<circle cx="324.00" cy="284.28" r="3.4"/>
<circle cx="471.50" cy="314.14" r="3.4"/>
<circle cx="310.40" cy="262.05" r="3.4"/>
<circle cx="656.60" cy="324.67" r="3.4"/>
<circle cx="192.90" cy="173.08" r="3.4"/>
<circle cx="617.10" cy="310.95" r="3.4"/>
</g>
<polygon points="70.8,331.3 75.5,340.4 66.1,340.4" fill="#f7901e"/>
<text x="73.2" y="321.4" textLength="84.6" lengthAdjust="spacingAndGlyphs" font-family="Liberation Sans, Arial, sans-serif" font-size="13.8" font-weight="bold" fill="#000">Pranab Sinha</text>
<path d="M63.5,61.45 H70.5 V389.5 H671.50 V394.5 M63.5,389.50 H70.5 M63.5,334.82 H70.5 M63.5,280.15 H70.5 M63.5,225.48 H70.5 M63.5,170.80 H70.5 M63.5,116.12 H70.5 M63.5,61.45 H70.5 M70.50,389.5 V394.5 M190.70,389.5 V394.5 M310.90,389.5 V394.5 M431.10,389.5 V394.5 M551.30,389.5 V394.5 M671.50,389.5 V394.5 " stroke="#808080" stroke-width="2" fill="none" stroke-linejoin="round" stroke-linecap="butt"/>
<g font-family="Liberation Sans, Arial, sans-serif" font-size="14" fill="#111">
<text x="59" y="392.70" text-anchor="end">0</text><text x="59" y="338.02" text-anchor="end">1</text><text x="59" y="283.35" text-anchor="end">2</text><text x="59" y="228.68" text-anchor="end">3</text><text x="59" y="174.00" text-anchor="end">4</text><text x="59" y="119.33" text-anchor="end">5</text><text x="59" y="64.65" text-anchor="end">6</text>
<text x="69.60" y="409" text-anchor="middle">0</text><text x="189.80" y="409" text-anchor="middle">1</text><text x="310.00" y="409" text-anchor="middle">2</text><text x="430.20" y="409" text-anchor="middle">3</text><text x="550.40" y="409" text-anchor="middle">4</text><text x="670.60" y="409" text-anchor="middle">5</text>
</g>
<text x="370.5" y="432" text-anchor="middle" textLength="90" lengthAdjust="spacingAndGlyphs" font-family="Liberation Sans, Arial, sans-serif" font-size="12" fill="#111">Expected mortality</text>
<text transform="translate(36.9,225.2) rotate(-90)" text-anchor="middle" textLength="134.5" lengthAdjust="spacingAndGlyphs" font-family="Liberation Sans, Arial, sans-serif" font-size="12" fill="#111">Standardised mortality ratio</text>
<g font-family="Liberation Sans, Arial, sans-serif" font-size="14" fill="#1e1e1e">
<path d="M111,469 H137" stroke="#5cb85a" stroke-width="2"/>
<text x="142.2" y="472.9" textLength="104.0" lengthAdjust="spacingAndGlyphs">National average</text>
<path d="M262,469 H288" stroke="#ff0000" stroke-width="2"/>
<text x="293.8" y="472.9" textLength="72.6" lengthAdjust="spacingAndGlyphs">Control limit</text>
<circle cx="394.5" cy="469.5" r="3.2" fill="#163a77"/>
<text x="412.1" y="472.9" textLength="94.6" lengthAdjust="spacingAndGlyphs">Other surgeons</text>
<polygon points="535,465 539.5,474 530.5,474" fill="#f7901e"/>
<text x="552.8" y="472.9" textLength="107.2" lengthAdjust="spacingAndGlyphs">Selected surgeon</text>
</g>
</svg>
</body></html>
